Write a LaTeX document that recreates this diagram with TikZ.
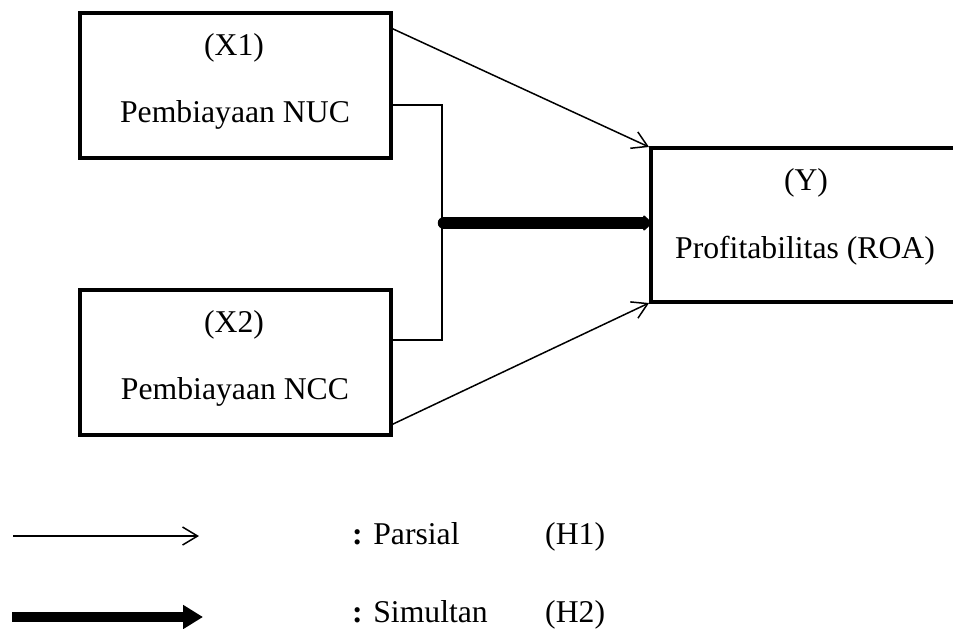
\documentclass[tikz,border=0pt]{standalone}
\usepackage{fontspec}
\setmainfont{Liberation Serif}
\usetikzlibrary{arrows.meta}
\begin{document}
\begin{tikzpicture}[x=1pt,y=-1pt,
  box/.style={draw, line width=4.5pt, minimum width=311pt, minimum height=145pt, inner sep=0pt},
  lbl/.style={anchor=base, inner sep=0pt, font=\fontsize{31.7}{38}\selectfont},
  thin/.style={line width=1.5pt},
  partial/.style={thin, -{Straight Barb[length=15pt,width=18pt,line width=1.5pt]}},
  simul/.style={line width=10pt, -{Triangle[length=20pt,width=23pt]}}
]
\useasboundingbox (0,0) rectangle (953,629);
% boxes
\node[box] (X1) at (235.5,85.5) {};
\node[box] (X2) at (235.5,362.5) {};
\node[minimum width=304pt, minimum height=154pt, inner sep=0pt] (Y) at (803,225) {};
\draw[line width=4.5pt] (Y.north east) -- (Y.north west) -- (Y.south west) -- (Y.south east);
% texts
\node[lbl] (x1a) at (234,55) {(X1)};
\node[lbl] (x1b) at (235,122) {Pembiayaan NUC};
\node[lbl] (x2a) at (234,332) {(X2)};
\node[lbl] (x2b) at (235,399) {Pembiayaan NCC};
\node[lbl] (ya) at (806,190) {(Y)};
\node[lbl] (yb) at (805,258) {Profitabilitas (ROA)};
% connectors
\coordinate (s1) at (391,28);
\coordinate (t1) at (649,147);
\coordinate (s2) at (391,425);
\coordinate (t2) at (649,303);
\draw[partial] (s1) -- (t1);
\draw[partial] (s2) -- (t2);
\coordinate (b1) at (391,105);
\coordinate (b2) at (391,340);
\draw[thin] (b1) -- (442,105) -- (442,340) -- (b2);
\coordinate (m) at (444,223);
\draw[line width=12.5pt, line cap=round, -{Triangle[length=8pt,width=18pt,round]}] (m) -- (Y.west |- m);
% legend
\coordinate (l1a) at (13,536);
\coordinate (l1b) at (199,536);
\draw[partial] (l1a) -- (l1b);
\coordinate (l2a) at (12,617);
\coordinate (l2b) at (203,617);
\draw[simul] (l2a) -- (l2b);
\node[lbl, anchor=base west] (p1) at (352,544) {\textbf{:} Parsial};
\node[lbl, anchor=base west] (h1) at (545,544) {(H1)};
\node[lbl, anchor=base west] (p2) at (352,622) {\textbf{:} Simultan};
\node[lbl, anchor=base west] (h2) at (545,622) {(H2)};
\end{tikzpicture}
\end{document}
